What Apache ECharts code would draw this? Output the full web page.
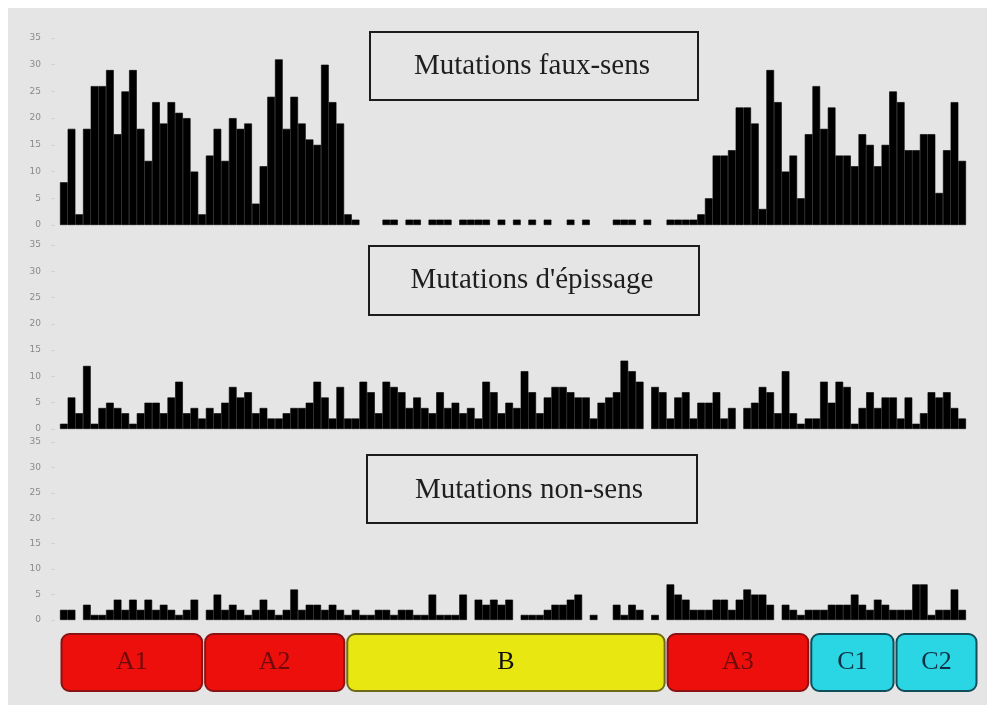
<!DOCTYPE html>
<html>
<head>
<meta charset="utf-8">
<script src="https://cdn.jsdelivr.net/npm/echarts@6/dist/echarts.min.js"></script>
<style>
  html, body { margin: 0; padding: 0; background: #fff; }
  #chart { width: 995px; height: 713px; }
</style>
</head>
<body>
<div id="chart"></div>
<script>
// bins along the protein (118 of them)
const bins = [];
for (let i = 1; i <= 118; i++) bins.push(i);

// counts per bin
const fauxSens = [
  8, 18, 2, 18, 26, 26, 29, 17, 25, 29, 18, 12, 23, 19, 23, 21, 20, 10, 2, 13,
  18, 12, 20, 18, 19, 4, 11, 24, 31, 18, 24, 19, 16, 15, 30, 23, 19, 2, 1,
  0, 0, 0, 1, 1, 0, 1, 1, 0, 1, 1, 1, 0, 1, 1, 1, 1, 0, 1, 0, 1, 0, 1, 0, 1, 0, 0,
  1, 0, 1, 0, 0, 0, 1, 1, 1, 0, 1, 0, 0, 1, 1, 1, 1,
  2, 5, 13, 13, 14, 22, 22, 19, 3, 29, 23, 10, 13, 5, 17, 26, 18, 22, 13, 13,
  11, 17, 15, 11, 15, 25, 23, 14, 14, 17, 17, 6, 14, 23, 12
];
const epissage = [
  1, 6, 3, 12, 1, 4, 5, 4, 3, 1, 3, 5, 5, 3, 6, 9, 3, 4, 2, 4,
  3, 5, 8, 6, 7, 3, 4, 2, 2, 3, 4, 4, 5, 9, 6, 2, 8, 2, 2,
  9, 7, 3, 9, 8, 7, 4, 6, 4, 3, 7, 4, 5, 3, 4, 2, 9, 7, 3, 5,
  4, 11, 7, 3, 6, 8, 8, 7, 6, 6, 2, 5, 6, 7, 13, 11, 9, 0, 8, 7,
  2, 6, 7, 2, 5, 5, 7, 2, 4, 0, 4, 5, 8, 7, 3, 11, 3, 1, 2, 2,
  9, 5, 9, 8, 1, 4, 7, 4, 6, 6, 2, 6, 1, 3, 7, 6, 7, 4, 2
];
const nonSens = [
  2, 2, 0, 3, 1, 1, 2, 4, 2, 4, 2, 4, 2, 3, 2, 1, 2, 4, 0, 2,
  5, 2, 3, 2, 1, 2, 4, 2, 1, 2, 6, 2, 3, 3, 2, 3, 2,
  1, 2, 1, 1, 2, 2, 1, 2, 2, 1, 1, 5, 1, 1, 1, 5,
  0, 4, 3, 4, 3, 4, 0, 1, 1, 1, 2, 3, 3, 4, 5, 0, 1, 0, 0, 3, 1, 3, 2, 0, 1, 0,
  7, 5, 4, 2, 2, 2, 4, 4, 2, 4, 6, 5, 5, 3, 0, 3, 2, 1, 2, 2,
  2, 3, 3, 3, 5, 3, 2, 4, 3, 2, 2, 2, 7, 7, 1, 2, 2, 6, 2
];

const panelTitles = ["Mutations faux-sens", "Mutations d'épissage", "Mutations non-sens"];
const yTicks = [0, 5, 10, 15, 20, 25, 30, 35];

// domains, in bin units
const domainNames = ['A1', 'A2', 'B', 'A3', 'C1', 'C2'];
const domainStart = [0, 18.7, 37.2, 78.9, 97.6, 108.7];
const domainEnd = [18.7, 37.2, 78.9, 97.6, 108.7, 119.5];

const domainStyle = {
  A: { fill: '#ec0f0c', stroke: '#8a1212', text: '#6e0a0a' },
  B: { fill: '#e8e712', stroke: '#6f6a1a', text: '#111' },
  C: { fill: '#2ad6e3', stroke: '#114d5a', text: '#0d2f45' }
};

const chart = echarts.init(document.getElementById('chart'));

const grids = [
  { left: 60, right: 29, top: 38, height: 187 },
  { left: 60, right: 29, top: 245, height: 184 },
  { left: 60, right: 29, top: 442, height: 178 },
  { left: 60, right: 17, top: 633, height: 59 }
];

const series3 = [fauxSens, epissage, nonSens];

const xAxes = series3.map((d, i) => ({
  type: 'category', gridIndex: i, data: bins, show: false
}));
xAxes.push({ type: 'value', gridIndex: 3, min: 0, max: 119.5, show: false });

const yAxes = series3.map((d, i) => ({
  type: 'value', gridIndex: i, min: yTicks[0], max: yTicks[yTicks.length - 1], interval: 5,
  offset: 5,
  axisLine: { show: false },
  axisTick: { show: true, length: 4, lineStyle: { color: '#d2d2d2' } },
  splitLine: { show: false },
  axisLabel: { margin: 14, fontSize: 9, color: '#8a8a8a', fontFamily: 'DejaVu Sans' }
}));
yAxes.push({ type: 'value', gridIndex: 3, min: 0, max: 1, show: false });

// thin black border closes the anti-aliasing seams between adjacent bars;
// empty bins are left out so their border doesn't draw a line on the baseline
const series = series3.map((d, i) => ({
  type: 'bar', xAxisIndex: i, yAxisIndex: i,
  data: d.map(v => (v === 0 ? '-' : v)),
  barCategoryGap: '0%',
  itemStyle: { color: '#000', borderColor: '#000', borderWidth: 0.6 }
}));

series.push({
  type: 'custom', xAxisIndex: 3, yAxisIndex: 3,
  data: domainNames.map((n, i) => [domainStart[i], domainEnd[i], n]),
  renderItem: function (params, api) {
    const a = api.coord([api.value(0), 1]);
    const b = api.coord([api.value(1), 0]);
    const name = domainNames[params.dataIndex];
    const st = domainStyle[name[0]];
    return {
      type: 'rect',
      shape: { x: a[0] + 1.5, y: a[1] + 1, width: b[0] - a[0] - 3, height: b[1] - a[1] - 2, r: 8 },
      style: { fill: st.fill, stroke: st.stroke, lineWidth: 2 },
      textContent: {
        style: { text: name, fill: st.text, font: '26px "Liberation Serif"' }
      },
      textConfig: { position: 'inside' }
    };
  }
});

const boxes = [
  { x: 370, y: 32, w: 328, h: 68, tx: 532, ty: 66 },
  { x: 369, y: 246, w: 330, h: 69, tx: 532, ty: 280 },
  { x: 367, y: 455, w: 330, h: 68, tx: 529, ty: 490 }
];

const graphic = [
  { type: 'rect', z: -10, silent: true, shape: { x: 8, y: 8, width: 979, height: 697 }, style: { fill: '#e5e5e5' } }
];
boxes.forEach((b, i) => {
  graphic.push({
    type: 'rect', z: 5, shape: { x: b.x, y: b.y, width: b.w, height: b.h },
    style: { fill: 'none', stroke: '#1c1c1c', lineWidth: 2 }
  });
  graphic.push({
    type: 'text', z: 5,
    style: { text: panelTitles[i], x: b.tx, y: b.ty, align: 'center', verticalAlign: 'middle',
      font: '29px "Liberation Serif"', fill: '#1e1e1e' }
  });
});

chart.setOption({
  animation: false,
  backgroundColor: '#ffffff',
  grid: grids,
  xAxis: xAxes,
  yAxis: yAxes,
  series: series,
  graphic: graphic
});
</script>
</body>
</html>
